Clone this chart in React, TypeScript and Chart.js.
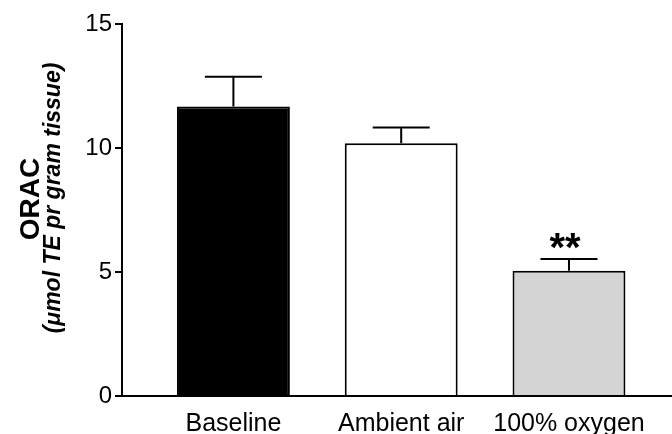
import React, { useEffect, useRef } from "react";
import { Chart, registerables } from "chart.js";

Chart.register(...registerables);

const categories = ["Baseline", "Ambient air", "100% oxygen"];
const means = [11.67, 10.19, 5.05];
const errors = [1.2, 0.64, 0.47];
const significance = ["", "", "**"];
const yTicks = [0, 5, 10, 15];
const barColors = ["#000000", "#ffffff", "#d4d4d4"];
const yTitle = "ORAC";
const ySubtitle = "(\u03bcmol TE pr gram tissue)";

const FONT = "'Liberation Sans', Arial, sans-serif";

const errorBarPlugin = {
  id: "errorBars",
  afterDatasetsDraw(chart: any) {
    const { ctx } = chart;
    const yScale = chart.scales.y;
    const meta = chart.getDatasetMeta(0);
    ctx.save();
    ctx.strokeStyle = "#000";
    ctx.lineWidth = 2;
    meta.data.forEach((bar: any, i: number) => {
      const x = bar.x;
      const yTop = yScale.getPixelForValue(means[i] + errors[i]);
      const yBase = bar.y;
      ctx.beginPath();
      ctx.moveTo(x, yBase);
      ctx.lineTo(x, yTop);
      ctx.moveTo(x - 28.5, yTop);
      ctx.lineTo(x + 28.5, yTop);
      ctx.stroke();
      if (significance[i]) {
        ctx.font = `bold 40px ${FONT}`;
        ctx.fillStyle = "#000";
        ctx.textAlign = "center";
        ctx.textBaseline = "alphabetic";
        const m = ctx.measureText(significance[i]);
        const a = m.actualBoundingBoxAscent;
        const d = m.actualBoundingBoxDescent;
        const target = yTop - 18;
        const baseline = target - (d - a) / 2;
        ctx.fillText(significance[i], x - 4, baseline);
      }
    });
    ctx.restore();
  },
};

const titlePlugin = {
  id: "yTitles",
  afterDraw(chart: any) {
    const { ctx } = chart;
    ctx.save();
    ctx.fillStyle = "#000";
    ctx.textAlign = "center";
    ctx.textBaseline = "middle";
    ctx.save();
    ctx.translate(31, 199);
    ctx.rotate(-Math.PI / 2);
    ctx.font = `bold 28px ${FONT}`;
    ctx.fillText(yTitle, 0, 0);
    ctx.restore();
    ctx.save();
    ctx.translate(54, 198);
    ctx.rotate(-Math.PI / 2);
    ctx.font = `italic bold 23px ${FONT}`;
    ctx.fillText(ySubtitle, 0, 0);
    ctx.restore();
    ctx.restore();
  },
};

export default function App() {
  const ref = useRef<HTMLCanvasElement | null>(null);

  useEffect(() => {
    document.body.style.margin = "0";
    const canvas = ref.current;
    if (!canvas) return;
    const chart = new Chart(canvas, {
      type: "bar",
      data: {
        datasets: [
          {
            data: categories.map((_, i) => ({ x: i, y: means[i] })),
            backgroundColor: barColors,
            borderColor: "#000",
            borderWidth: 2,
            borderSkipped: "bottom",
            barPercentage: 0.673,
            categoryPercentage: 1,
          },
        ],
      },
      options: {
        animation: false,
        responsive: false,
        devicePixelRatio: 1,
        layout: { padding: { left: 0, right: 0, top: 24, bottom: 0 } },
        plugins: { legend: { display: false }, tooltip: { enabled: false } },
        scales: {
          x: {
            type: "linear",
            min: -0.664,
            max: 2.614,
            offset: false,
            bounds: "data",
            afterBuildTicks: (scale: any) => {
              scale.ticks = categories.map((_, i) => ({ value: i }));
            },
            afterFit: (scale: any) => {
              scale.height = 38;
            },
            grid: { display: false, offset: false },
            border: { display: true, color: "#000", width: 2 },
            ticks: {
              autoSkip: false,
              maxRotation: 0,
              minRotation: 0,
              padding: 5,
              color: "#000",
              font: { family: FONT, size: 25 },
              callback: (v: any) => categories[v] ?? "",
            },
          },
          y: {
            min: 0,
            max: 15,
            afterBuildTicks: (scale: any) => {
              scale.ticks = yTicks.map((v) => ({ value: v }));
            },
            afterFit: (scale: any) => {
              scale.width = 122;
            },
            grid: {
              display: true,
              drawOnChartArea: false,
              drawTicks: true,
              tickLength: 7,
              color: "#000",
              lineWidth: 2,
            },
            border: { display: true, color: "#000", width: 2 },
            ticks: {
              padding: 3,
              color: "#000",
              font: { family: FONT, size: 24 },
            },
          },
        },
      },
      plugins: [errorBarPlugin, titlePlugin],
    });
    return () => chart.destroy();
  }, []);

  return (
    <div style={{ width: 672, height: 434, background: "#fff" }}>
      <canvas ref={ref} width={672} height={434} style={{ display: "block" }} />
    </div>
  );
}
